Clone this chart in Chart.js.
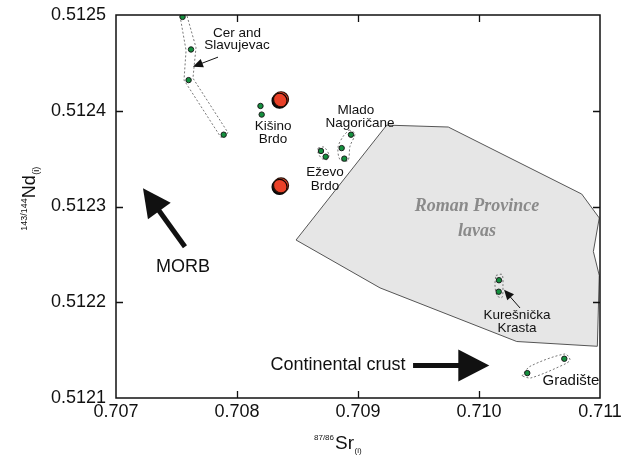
<!DOCTYPE html>
<html>
<head>
<meta charset="utf-8">
<script src="https://cdn.jsdelivr.net/npm/chart.js@4/dist/chart.umd.min.js"></script>
<style>
  html, body { margin: 0; padding: 0; background: #fff; }
  #wrap { width: 633px; height: 463px; }
</style>
</head>
<body>
<div id="wrap"><canvas id="c" width="633" height="463"></canvas></div>
<script>
// ---------- DATA ----------
const xTicks = [0.707, 0.708, 0.709, 0.710, 0.711];
const xTickLabels = ['0.707', '0.708', '0.709', '0.710', '0.711'];
const yTicks = [0.5121, 0.5122, 0.5123, 0.5124, 0.5125];
const yTickLabels = ['0.5121', '0.5122', '0.5123', '0.5124', '0.5125'];

// samples (87/86Sr(i), 143/144Nd(i))
const cerSlavujevacSr = [0.70755, 0.70762, 0.70760, 0.70789];
const cerSlavujevacNd = [0.512498, 0.512464, 0.512432, 0.512375];
const kisinoBrdoSr = [0.708194, 0.708204];
const kisinoBrdoNd = [0.512405, 0.512396];
const mladoNagoricaneSr = [0.708942, 0.708865, 0.708887];
const mladoNagoricaneNd = [0.512375, 0.512361, 0.512350];
const ezevoBrdoSr = [0.708694, 0.708733];
const ezevoBrdoNd = [0.512358, 0.512352];
const kuresnickaKrastaSr = [0.710165, 0.710163];
const kuresnickaKrastaNd = [0.512223, 0.512211];
const gradisteSr = [0.710705, 0.710399];
const gradisteNd = [0.512141, 0.512126];
const redSamplesSr = [0.708364, 0.708364];
const redSamplesNd = [0.512412, 0.512322];

// Roman Province lavas field
const romanProvinceSr = [0.709237, 0.709746, 0.710849, 0.710994, 0.710945, 0.710994, 0.710978, 0.710312, 0.709182, 0.708488, 0.709237];
const romanProvinceNd = [0.512385, 0.512383, 0.512313, 0.512288, 0.512253, 0.512228, 0.512154, 0.512159, 0.512215, 0.512265, 0.512385];

// dashed envelopes around sample groups
const cerEnvelopeSr = [0.707529, 0.707579, 0.707562, 0.707868, 0.707926, 0.707636, 0.707661, 0.707587, 0.707529];
const cerEnvelopeNd = [0.512499, 0.512463, 0.512432, 0.512372, 0.512377, 0.512434, 0.512466, 0.512499, 0.512499];
const mladoEnvelopeSr = [0.708926, 0.708975, 0.708934, 0.708917, 0.708851, 0.708835, 0.708876, 0.708926];
const mladoEnvelopeNd = [0.512380, 0.512376, 0.512363, 0.512348, 0.512349, 0.512362, 0.512373, 0.512380];
const ezevoEnvelopeSr = [0.708670, 0.708719, 0.708760, 0.708744, 0.708702, 0.708670, 0.708670];
const ezevoEnvelopeNd = [0.512361, 0.512362, 0.512354, 0.512349, 0.512350, 0.512356, 0.512361];
const kuresnickaEnvelopeSr = [0.710140, 0.710190, 0.710198, 0.710190, 0.710149, 0.710132, 0.710140];
const kuresnickaEnvelopeNd = [0.512228, 0.512229, 0.512218, 0.512205, 0.512207, 0.512218, 0.512228];
const gradisteEnvelopeSr = [0.710355, 0.710421, 0.710710, 0.710752, 0.710719, 0.710430, 0.710355];
const gradisteEnvelopeNd = [0.512123, 0.512133, 0.512146, 0.512140, 0.512136, 0.512121, 0.512123];

// text annotations (data coordinates)
const labelTexts = ['Cer and', 'Slavujevac', 'Kišino', 'Brdo', 'Mlado', 'Nagoričane', 'Eževo', 'Brdo', 'Kurešnička', 'Krasta', 'Gradište', 'MORB', 'Continental crust'];
const labelSr =    [0.708000, 0.708000, 0.708298, 0.708298, 0.708983, 0.709017, 0.708727, 0.708727, 0.710314, 0.710314, 0.710760, 0.707554, 0.708835];
const labelNd =    [0.512481, 0.512468, 0.512384, 0.512370, 0.512400, 0.512387, 0.512336, 0.512321, 0.512186, 0.512173, 0.512118, 0.512237, 0.512134];
const fieldTexts = ['Roman Province', 'lavas'];
const fieldSr = [0.709983, 0.709983];
const fieldNd = [0.512300, 0.512274];

// arrows: tail -> tip (data coordinates)
const arrowTailSr = [0.707570, 0.709455, 0.707843, 0.710339];
const arrowTailNd = [0.512258, 0.512134, 0.512456, 0.512194];
const arrowTipSr  = [0.707223, 0.710085, 0.707636, 0.710207];
const arrowTipNd  = [0.512319, 0.512134, 0.512446, 0.512213];

// ---------- helpers ----------
const pts = (xs, ys) => xs.map((x, i) => ({ x: x, y: ys[i] }));
const FONT = '"Liberation Sans", Arial, Helvetica, sans-serif';

const greenPoint = {
  showLine: false, pointRadius: 2.7, pointBackgroundColor: '#14903e',
  pointBorderColor: '#1b1b1b', pointBorderWidth: 1, pointHoverRadius: 2.7
};
const envelope = {
  showLine: true, pointRadius: 0, borderColor: '#555', borderWidth: 0.8,
  borderDash: [2, 2], fill: false, tension: 0.3
};

const arrowStyles = [
  { lw: 5, headLen: 28, headHalf: 14 },
  { lw: 5, headLen: 31, headHalf: 16 },
  { lw: 1, headLen: 10, headHalf: 4.5 },
  { lw: 1, headLen: 10, headHalf: 4.5 }
];

function drawArrow(ctx, x1, y1, x2, y2, s) {
  const a = Math.atan2(y2 - y1, x2 - x1);
  const bx = x2 - Math.cos(a) * s.headLen, by = y2 - Math.sin(a) * s.headLen;
  ctx.strokeStyle = '#111'; ctx.fillStyle = '#111';
  ctx.lineWidth = s.lw; ctx.lineCap = 'butt';
  ctx.beginPath(); ctx.moveTo(x1, y1);
  ctx.lineTo(x2 - Math.cos(a) * s.headLen * 0.6, y2 - Math.sin(a) * s.headLen * 0.6);
  ctx.stroke();
  ctx.beginPath();
  ctx.moveTo(x2, y2);
  ctx.lineTo(bx + Math.sin(a) * s.headHalf, by - Math.cos(a) * s.headHalf);
  ctx.lineTo(bx - Math.sin(a) * s.headHalf, by + Math.cos(a) * s.headHalf);
  ctx.closePath(); ctx.fill();
}

const shadowPlugin = {
  id: 'shadow',
  beforeDatasetDraw(chart, args) {
    if (args.meta._dataset.isRed) {
      const ctx = chart.ctx; ctx.save();
      ctx.shadowColor = 'rgba(0,0,0,0.95)';
      ctx.shadowOffsetX = -1.5; ctx.shadowOffsetY = 1.5; ctx.shadowBlur = 0;
    }
  },
  afterDatasetDraw(chart, args) {
    if (args.meta._dataset.isRed) chart.ctx.restore();
  }
};

const decorPlugin = {
  id: 'decor',
  afterDraw(chart) {
    const ctx = chart.ctx, xs = chart.scales.x, ys = chart.scales.y, a = chart.chartArea;
    ctx.save();
    // annotations
    ctx.textAlign = 'center'; ctx.textBaseline = 'middle';
    ctx.fillStyle = '#8a8a8a';
    ctx.font = 'bold italic 18px "Liberation Serif", "Times New Roman", serif';
    fieldTexts.forEach((t, i) => ctx.fillText(t, xs.getPixelForValue(fieldSr[i]), ys.getPixelForValue(fieldNd[i])));
    ctx.fillStyle = '#111';
    labelTexts.forEach((t, i) => {
      let size = 13.5;
      if (t === 'MORB' || t === 'Continental crust') size = 18;
      if (t === 'Gradište') size = 15;
      ctx.font = size + 'px ' + FONT;
      ctx.fillText(t, xs.getPixelForValue(labelSr[i]), ys.getPixelForValue(labelNd[i]));
    });
    arrowTailSr.forEach((v, i) => {
      drawArrow(ctx, xs.getPixelForValue(v), ys.getPixelForValue(arrowTailNd[i]),
        xs.getPixelForValue(arrowTipSr[i]), ys.getPixelForValue(arrowTipNd[i]), arrowStyles[i]);
    });
    // frame with inward ticks
    ctx.strokeStyle = '#111'; ctx.lineWidth = 1.5;
    ctx.strokeRect(a.left, a.top, a.right - a.left, a.bottom - a.top);
    ctx.lineWidth = 1.3;
    const tl = 7;
    ctx.beginPath();
    xTicks.slice(1, -1).forEach(v => {
      const px = Math.round(xs.getPixelForValue(v)) + 0.5;
      ctx.moveTo(px, a.bottom); ctx.lineTo(px, a.bottom - tl);
      ctx.moveTo(px, a.top); ctx.lineTo(px, a.top + tl);
    });
    yTicks.slice(1, -1).forEach(v => {
      const py = Math.round(ys.getPixelForValue(v)) + 0.5;
      ctx.moveTo(a.left, py); ctx.lineTo(a.left + tl, py);
      ctx.moveTo(a.right, py); ctx.lineTo(a.right - tl, py);
    });
    ctx.stroke();
    // axis titles
    ctx.fillStyle = '#111'; ctx.textAlign = 'left'; ctx.textBaseline = 'alphabetic';
    // x title: 87/86Sr(i)
    ctx.font = '8px ' + FONT; const wSup = ctx.measureText('87/86').width;
    ctx.font = '19px ' + FONT; const wMain = ctx.measureText('Sr').width;
    let x0 = 314;
    const by = 449;
    ctx.font = '8px ' + FONT; ctx.fillText('87/86', x0, by - 9);
    ctx.font = '19px ' + FONT; ctx.fillText('Sr', x0 + wSup + 1, by);
    ctx.font = '8px ' + FONT; ctx.fillText('(i)', x0 + wSup + wMain + 1.5, by + 4);
    // y title: 143/144Nd(i), rotated
    ctx.save();
    ctx.font = '9px ' + FONT; const ySup = ctx.measureText('143/144').width;
    ctx.font = '18px ' + FONT; const yMain = ctx.measureText('Nd').width;
    ctx.font = '9px ' + FONT; const ySub = ctx.measureText('(i)').width;
    ctx.translate(35, 199); ctx.rotate(-Math.PI / 2);
    let s0 = -(ySup + yMain + ySub) / 2;
    ctx.font = '9px ' + FONT; ctx.fillText('143/144', s0, -8);
    ctx.font = '18px ' + FONT; ctx.fillText('Nd', s0 + ySup, 0);
    ctx.font = '9px ' + FONT; ctx.fillText('(i)', s0 + ySup + yMain + 0.5, 4);
    ctx.restore();
    ctx.restore();
  }
};

new Chart(document.getElementById('c'), {
  type: 'scatter',
  data: {
    datasets: [
      Object.assign({ isRed: true, data: pts(redSamplesSr, redSamplesNd), showLine: false,
        pointRadius: 7.5, pointBackgroundColor: '#ea4128', pointBorderColor: '#2a1208',
        pointBorderWidth: 1.2, pointHoverRadius: 7.5, order: 0 }),
      Object.assign({ data: pts(cerSlavujevacSr, cerSlavujevacNd), order: 1 }, greenPoint),
      Object.assign({ data: pts(kisinoBrdoSr, kisinoBrdoNd), order: 1 }, greenPoint),
      Object.assign({ data: pts(mladoNagoricaneSr, mladoNagoricaneNd), order: 1 }, greenPoint),
      Object.assign({ data: pts(ezevoBrdoSr, ezevoBrdoNd), order: 1 }, greenPoint),
      Object.assign({ data: pts(kuresnickaKrastaSr, kuresnickaKrastaNd), order: 1 }, greenPoint),
      Object.assign({ data: pts(gradisteSr, gradisteNd), order: 1 }, greenPoint),
      Object.assign({ data: pts(cerEnvelopeSr, cerEnvelopeNd), order: 2 }, envelope, { tension: 0 }),
      Object.assign({ data: pts(mladoEnvelopeSr, mladoEnvelopeNd), order: 2 }, envelope),
      Object.assign({ data: pts(ezevoEnvelopeSr, ezevoEnvelopeNd), order: 2 }, envelope),
      Object.assign({ data: pts(kuresnickaEnvelopeSr, kuresnickaEnvelopeNd), order: 2 }, envelope),
      Object.assign({ data: pts(gradisteEnvelopeSr, gradisteEnvelopeNd), order: 2 }, envelope),
      { data: pts(romanProvinceSr, romanProvinceNd), showLine: true, pointRadius: 0,
        borderColor: '#555', borderWidth: 1, backgroundColor: '#e6e6e6', fill: 'shape',
        tension: 0, order: 3 }
    ]
  },
  options: {
    responsive: false,
    devicePixelRatio: 1,
    animation: false,
    events: [],
    layout: { padding: { top: 15, right: 33, left: 0, bottom: 0 } },
    plugins: { legend: { display: false }, tooltip: { enabled: false } },
    scales: {
      x: {
        type: 'linear', min: 0.707, max: 0.711,
        afterBuildTicks: s => { s.ticks = xTicks.map(v => ({ value: v })); },
        afterFit: s => { s.height = 65; s.paddingLeft = 0; s.paddingRight = 0; },
        ticks: { callback: (v, i) => xTickLabels[i], font: { size: 18, family: FONT }, color: '#111', padding: 3, maxRotation: 0, autoSkip: false },
        grid: { display: false, drawTicks: false },
        border: { display: false }
      },
      y: {
        type: 'linear', min: 0.5121, max: 0.5125,
        afterBuildTicks: s => { s.ticks = yTicks.map(v => ({ value: v })); },
        afterFit: s => { s.width = 116; s.paddingTop = 0; s.paddingBottom = 0; },
        ticks: { callback: (v, i) => yTickLabels[i], font: { size: 18, family: FONT }, color: '#111', padding: 10, autoSkip: false },
        grid: { display: false, drawTicks: false },
        border: { display: false }
      }
    }
  },
  plugins: [shadowPlugin, decorPlugin]
});
</script>
</body>
</html>
